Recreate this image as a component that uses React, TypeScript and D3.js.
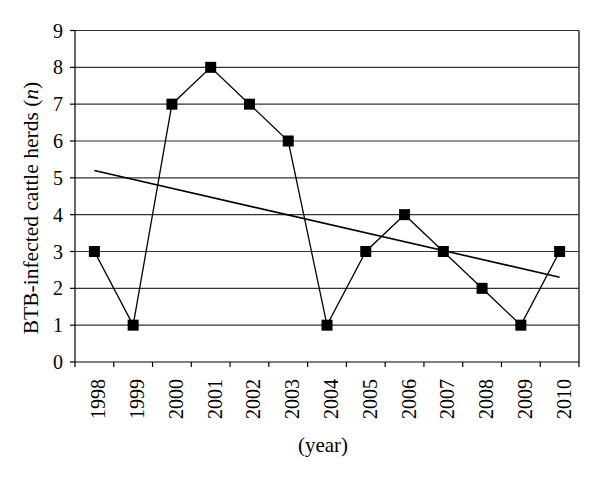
import { useRef, useEffect } from 'react'
import * as d3 from 'd3';

const years = ['1998', '1999', '2000', '2001', '2002', '2003', '2004', '2005', '2006', '2007', '2008', '2009', '2010'];
const herds = [3, 1, 7, 8, 7, 6, 1, 3, 4, 3, 2, 1, 3];
// linear trend line at first and last year
const trendEnds = [5.2, 2.3];
const yTicks = [0, 1, 2, 3, 4, 5, 6, 7, 8, 9];

function App() {
    const ref = useRef(null);

    const width = 600;
    const height = 479;

    useEffect(() => {
        const marginLeft = 75;
        const marginRight = 21;
        const marginTop = 30.5;
        const marginBottom = 117;

        const svg = d3.select(ref.current);
        svg.selectAll('*').remove();

        const x = d3.scaleBand()
                    .domain(years)
                    .range([marginLeft, width - marginRight])
                    .padding(0);

        const y = d3.scaleLinear()
                    .domain([0, 9])
                    .range([height - marginBottom, marginTop]);

        const cx = (d) => x(d) + x.bandwidth() / 2;

        // horizontal grid lines
        svg.append('g')
           .selectAll('line')
           .data(yTicks.slice(1))
           .join('line')
           .attr('x1', marginLeft)
           .attr('x2', width - marginRight)
           .attr('y1', (d) => y(d))
           .attr('y2', (d) => y(d))
           .attr('stroke', '#333')
           .attr('stroke-width', 1.2);

        // right border
        svg.append('line')
           .attr('x1', width - marginRight)
           .attr('x2', width - marginRight)
           .attr('y1', y(9))
           .attr('y2', y(0))
           .attr('stroke', '#333')
           .attr('stroke-width', 1.5);

        // x axis
        const xAxis = svg.append('g')
           .attr('transform', `translate(0,${y(0)})`);
        xAxis.append('line')
             .attr('x1', marginLeft)
             .attr('x2', width - marginRight)
             .attr('stroke', '#000')
             .attr('stroke-width', 1.2);
        const tickXs = years.map((d) => x(d)).concat([width - marginRight]);
        xAxis.selectAll('line.tick')
             .data(tickXs)
             .join('line')
             .attr('class', 'tick')
             .attr('x1', (d) => d)
             .attr('x2', (d) => d)
             .attr('y1', 0)
             .attr('y2', 5)
             .attr('stroke', '#000')
             .attr('stroke-width', 1.2);
        xAxis.selectAll('text')
             .data(years)
             .join('text')
             .attr('transform', (d) => `translate(${cx(d) + 4},17) rotate(-90)`)
             .attr('text-anchor', 'end')
             .attr('dy', '0.35em')
             .attr('font-family', 'Liberation Serif, serif')
             .attr('font-size', 20)
             .text((d) => d);

        // y axis
        const yAxis = svg.append('g')
           .attr('transform', `translate(${marginLeft},0)`);
        yAxis.append('line')
             .attr('y1', y(0))
             .attr('y2', y(9))
             .attr('stroke', '#000')
             .attr('stroke-width', 1.2);
        yAxis.selectAll('line.tick')
             .data(yTicks)
             .join('line')
             .attr('class', 'tick')
             .attr('x1', -5)
             .attr('x2', 0)
             .attr('y1', (d) => y(d))
             .attr('y2', (d) => y(d))
             .attr('stroke', '#000')
             .attr('stroke-width', 1.2);
        yAxis.selectAll('text')
             .data(yTicks)
             .join('text')
             .attr('x', -12)
             .attr('y', (d) => y(d))
             .attr('dy', '0.35em')
             .attr('text-anchor', 'end')
             .attr('font-family', 'Liberation Serif, serif')
             .attr('font-size', 20)
             .text((d) => d);

        // axis titles
        const yTitle = svg.append('text')
           .attr('transform', `translate(38,208) rotate(-90)`)
           .attr('text-anchor', 'middle')
           .attr('font-family', 'Liberation Serif, serif')
           .attr('font-size', 21.5)
           .attr('fill', '#000');
        yTitle.append('tspan').text('BTB-infected cattle herds (');
        yTitle.append('tspan').attr('font-style', 'italic').text('n');
        yTitle.append('tspan').text(')');

        svg.append('text')
           .attr('x', 323)
           .attr('y', 452)
           .attr('text-anchor', 'middle')
           .attr('font-family', 'Liberation Serif, serif')
           .attr('font-size', 21)
           .attr('fill', '#000')
           .text('(year)');

        // trend line
        svg.append('line')
           .attr('x1', cx(years[0]))
           .attr('x2', cx(years[years.length - 1]))
           .attr('y1', y(trendEnds[0]))
           .attr('y2', y(trendEnds[1]))
           .attr('stroke', '#000')
           .attr('stroke-width', 1.6);

        // data line
        const line = d3.line()
                       .x((d, i) => cx(years[i]))
                       .y((d) => y(d));
        svg.append('path')
           .datum(herds)
           .attr('d', line)
           .attr('fill', 'none')
           .attr('stroke', '#000')
           .attr('stroke-width', 1.3);

        // square markers
        const s = 11;
        svg.append('g')
           .selectAll('rect')
           .data(herds)
           .join('rect')
           .attr('x', (d, i) => cx(years[i]) - s / 2)
           .attr('y', (d) => y(d) - s / 2)
           .attr('width', s)
           .attr('height', s)
           .attr('fill', '#000');
    });

    return (
        <svg width={width}
             height={height}
             ref={ref}
             style={{ position: 'absolute', left: 0, top: 0, background: '#fff' }} />
    );
}

export default App;
